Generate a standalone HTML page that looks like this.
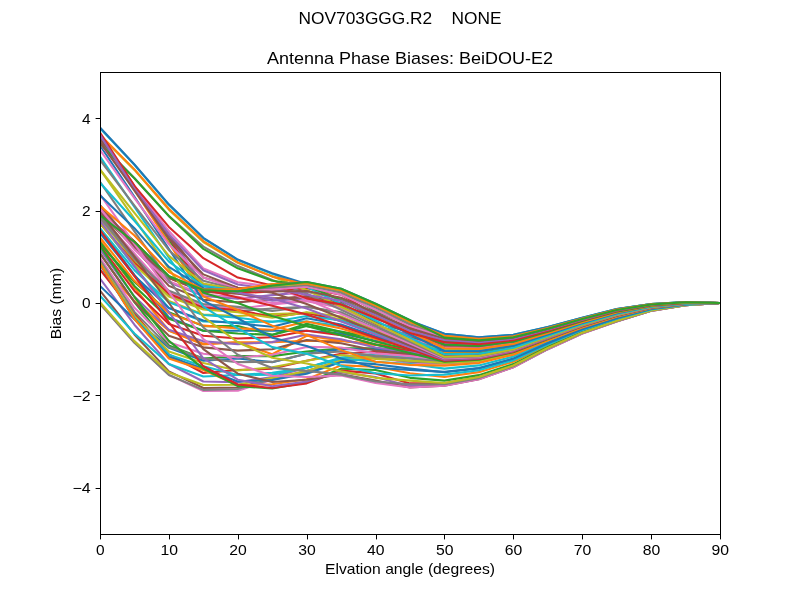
<!DOCTYPE html>
<html><head><meta charset="utf-8"><title>plot</title>
<style>
html,body{margin:0;padding:0;background:#fff;}
body{width:800px;height:600px;overflow:hidden;font-family:"Liberation Sans",sans-serif;}
svg{display:block;will-change:transform;}
svg text{font-family:"Liberation Sans",sans-serif;fill:#000;}
.ln polyline{fill:none;stroke-width:2.08;stroke-linejoin:round;stroke-linecap:butt;}
</style></head><body>
<svg width="800" height="600" viewBox="0 0 800 600">
<rect x="0" y="0" width="800" height="600" fill="#fff"/>
<defs><clipPath id="ax"><rect x="100" y="72" width="620" height="462"/></clipPath></defs>
<g class="ln" clip-path="url(#ax)">
<polyline points="100.00,215.22 134.44,242.02 168.89,276.20 203.33,290.06 237.78,291.45 272.22,285.63 306.67,281.98 341.11,288.68 375.56,303.74 410.00,320.23 444.44,337.65 478.89,340.36 513.33,337.32 547.78,328.70 582.22,318.97 616.67,309.95 651.11,304.45 685.56,302.32 720.00,303.00" stroke="#1f77b4"/>
<polyline points="100.00,213.14 134.44,241.78 168.89,276.67 203.33,290.53 237.78,291.45 272.22,287.29 306.67,283.60 341.11,290.06 375.56,306.59 410.00,321.88 444.44,339.30 478.89,341.70 513.33,338.35 547.78,329.40 582.22,319.47 616.67,310.34 651.11,304.67 685.56,302.42 720.00,303.00" stroke="#ff7f0e"/>
<polyline points="100.00,211.06 134.44,241.55 168.89,277.13 203.33,290.99 237.78,292.14 272.22,289.14 306.67,285.44 341.11,291.91 375.56,311.32 410.00,324.71 444.44,340.88 478.89,342.98 513.33,339.33 547.78,330.08 582.22,319.95 616.67,310.72 651.11,304.88 685.56,302.52 720.00,303.00" stroke="#2ca02c"/>
<polyline points="100.00,209.44 134.44,241.78 168.89,278.05 203.33,291.91 237.78,293.30 272.22,291.45 306.67,288.22 341.11,294.68 375.56,315.02 410.00,327.22 444.44,342.50 478.89,344.29 513.33,340.34 547.78,330.77 582.22,320.44 616.67,311.11 651.11,305.09 685.56,302.62 720.00,303.00" stroke="#d62728"/>
<polyline points="100.00,211.06 134.44,245.25 168.89,282.21 203.33,296.07 237.78,298.61 272.22,295.15 306.67,291.91 341.11,298.38 375.56,318.71 410.00,329.80 444.44,344.12 478.89,345.60 513.33,341.35 547.78,331.46 582.22,320.93 616.67,311.50 651.11,305.31 685.56,302.72 720.00,303.00" stroke="#9467bd"/>
<polyline points="100.00,212.22 134.44,248.25 168.89,285.91 203.33,299.77 237.78,302.40 272.22,299.30 306.67,296.07 341.11,303.00 375.56,322.40 410.00,332.34 444.44,345.74 478.89,346.90 513.33,342.35 547.78,332.15 582.22,321.41 616.67,311.89 651.11,305.53 685.56,302.82 720.00,303.00" stroke="#8c564b"/>
<polyline points="100.00,215.68 134.44,253.57 168.89,291.91 203.33,305.77 237.78,308.77 272.22,304.39 306.67,301.15 341.11,307.62 375.56,326.10 410.00,334.88 444.44,347.35 478.89,348.21 513.33,343.36 547.78,332.84 582.22,321.90 616.67,312.28 651.11,305.74 685.56,302.92 720.00,303.00" stroke="#e377c2"/>
<polyline points="100.00,215.95 134.44,255.91 168.89,295.30 203.33,309.01 237.78,310.99 272.22,308.54 306.67,306.70 341.11,313.16 375.56,329.80 410.00,337.39 444.44,348.97 478.89,349.52 513.33,344.36 547.78,333.53 582.22,322.39 616.67,312.67 651.11,305.96 685.56,303.02 720.00,303.00" stroke="#7f7f7f"/>
<polyline points="100.00,218.53 134.44,260.57 168.89,301.00 203.33,314.55 237.78,315.94 272.22,314.09 306.67,313.16 341.11,319.17 375.56,333.49 410.00,339.96 444.44,350.59 478.89,350.83 513.33,345.37 547.78,334.22 582.22,322.88 616.67,313.05 651.11,306.17 685.56,303.13 720.00,303.00" stroke="#bcbd22"/>
<polyline points="100.00,222.50 134.44,266.62 168.89,308.08 203.33,321.48 237.78,322.40 272.22,321.48 306.67,321.48 341.11,326.10 375.56,337.19 410.00,342.70 444.44,352.20 478.89,352.14 513.33,346.38 547.78,334.91 582.22,323.37 616.67,313.44 651.11,306.39 685.56,303.23 720.00,303.00" stroke="#17becf"/>
<polyline points="100.00,228.77 134.44,274.97 168.89,317.48 203.33,330.72 237.78,330.72 272.22,330.72 306.67,330.72 341.11,333.49 375.56,340.88 410.00,345.50 444.44,353.82 478.89,353.44 513.33,347.38 547.78,335.60 582.22,323.86 616.67,313.83 651.11,306.60 685.56,303.33 720.00,303.00" stroke="#1f77b4"/>
<polyline points="100.00,240.25 134.44,287.60 168.89,330.57 203.33,343.66 237.78,342.27 272.22,342.27 306.67,340.88 341.11,340.88 375.56,344.64 410.00,348.18 444.44,355.39 478.89,354.71 513.33,348.36 547.78,336.27 582.22,324.33 616.67,314.21 651.11,306.81 685.56,303.42 720.00,303.00" stroke="#ff7f0e"/>
<polyline points="100.00,253.57 134.44,302.08 168.89,345.50 203.33,358.44 237.78,356.13 272.22,356.13 306.67,351.51 341.11,348.28 375.56,348.28 410.00,351.05 444.44,357.05 478.89,356.06 513.33,349.40 547.78,336.98 582.22,324.84 616.67,314.61 651.11,307.03 685.56,303.53 720.00,303.00" stroke="#2ca02c"/>
<polyline points="100.00,269.50 134.44,313.39 168.89,354.51 203.33,372.99 237.78,369.99 272.22,368.60 306.67,360.75 341.11,353.82 375.56,351.80 410.00,354.68 444.44,359.10 478.89,357.72 513.33,350.67 547.78,337.85 582.22,325.45 616.67,315.10 651.11,307.31 685.56,303.66 720.00,303.00" stroke="#d62728"/>
<polyline points="100.00,278.51 134.44,324.71 168.89,363.98 203.33,381.54 237.78,382.23 272.22,376.92 306.67,367.68 341.11,358.44 375.56,354.74 410.00,358.44 444.44,361.21 478.89,359.42 513.33,351.98 547.78,338.75 582.22,326.09 616.67,315.60 651.11,307.59 685.56,303.79 720.00,303.00" stroke="#9467bd"/>
<polyline points="100.00,290.53 134.44,334.42 168.89,371.38 203.33,388.01 237.78,387.55 272.22,379.23 306.67,370.91 341.11,360.75 375.56,356.59 410.00,361.67 444.44,363.06 478.89,360.92 513.33,353.13 547.78,339.54 582.22,326.65 616.67,316.05 651.11,307.84 685.56,303.90 720.00,303.00" stroke="#8c564b"/>
<polyline points="100.00,303.69 134.44,342.50 168.89,374.84 203.33,391.01 237.78,390.78 272.22,379.69 306.67,372.30 341.11,361.67 375.56,357.52 410.00,363.06 444.44,363.98 478.89,361.67 513.33,353.71 547.78,339.94 582.22,326.93 616.67,316.27 651.11,307.96 685.56,303.96 720.00,303.00" stroke="#e377c2"/>
<polyline points="100.00,303.92 134.44,342.73 168.89,375.07 203.33,389.86 237.78,388.93 272.22,379.23 306.67,372.30 341.11,361.67 375.56,357.52 410.00,361.67 444.44,363.06 478.89,360.92 513.33,353.13 547.78,339.54 582.22,326.65 616.67,316.05 651.11,307.84 685.56,303.90 720.00,303.00" stroke="#7f7f7f"/>
<polyline points="100.00,302.31 134.44,341.12 168.89,372.53 203.33,385.00 237.78,384.77 272.22,377.84 306.67,370.91 341.11,360.29 375.56,356.13 410.00,360.75 444.44,360.75 478.89,359.05 513.33,351.69 547.78,338.56 582.22,325.95 616.67,315.49 651.11,307.53 685.56,303.76 720.00,303.00" stroke="#bcbd22"/>
<polyline points="100.00,295.61 134.44,333.49 168.89,363.98 203.33,376.46 237.78,375.07 272.22,374.61 306.67,367.68 341.11,357.52 375.56,353.82 410.00,357.52 444.44,358.44 478.89,357.18 513.33,350.26 547.78,337.57 582.22,325.25 616.67,314.94 651.11,307.22 685.56,303.61 720.00,303.00" stroke="#17becf"/>
<polyline points="100.00,285.91 134.44,319.17 168.89,347.81 203.33,360.75 237.78,358.44 272.22,362.14 306.67,353.82 341.11,349.20 375.56,349.20 410.00,353.82 444.44,355.67 478.89,354.94 513.33,348.53 547.78,336.39 582.22,324.42 616.67,314.27 651.11,306.85 685.56,303.44 720.00,303.00" stroke="#1f77b4"/>
<polyline points="100.00,264.19 134.44,301.15 168.89,330.72 203.33,344.58 237.78,342.27 272.22,354.28 306.67,335.80 341.11,340.42 375.56,345.04 410.00,348.04 444.44,353.36 478.89,353.07 513.33,347.10 547.78,335.40 582.22,323.72 616.67,313.72 651.11,306.54 685.56,303.30 720.00,303.00" stroke="#ff7f0e"/>
<polyline points="100.00,243.86 134.44,282.06 168.89,312.24 203.33,326.10 237.78,326.10 272.22,334.88 306.67,323.79 341.11,331.64 375.56,338.11 410.00,344.35 444.44,351.05 478.89,351.20 513.33,345.66 547.78,334.42 582.22,323.02 616.67,313.16 651.11,306.23 685.56,303.15 720.00,303.00" stroke="#2ca02c"/>
<polyline points="100.00,223.54 134.44,262.96 168.89,293.76 203.33,307.62 237.78,309.93 272.22,316.86 306.67,312.70 341.11,321.02 375.56,329.33 410.00,334.42 444.44,349.20 478.89,349.71 513.33,344.51 547.78,333.63 582.22,322.46 616.67,312.72 651.11,305.99 685.56,303.04 720.00,303.00" stroke="#d62728"/>
<polyline points="100.00,205.06 134.44,245.71 168.89,277.13 203.33,290.99 237.78,293.02 272.22,300.69 306.67,298.38 341.11,307.62 375.56,326.10 410.00,335.34 444.44,347.81 478.89,348.59 513.33,343.65 547.78,333.04 582.22,322.04 616.67,312.39 651.11,305.80 685.56,302.95 720.00,303.00" stroke="#9467bd"/>
<polyline points="100.00,205.40 134.44,246.29 168.89,277.82 203.33,291.45 237.78,293.76 272.22,298.38 306.67,297.46 341.11,305.77 375.56,324.71 410.00,337.19 444.44,347.35 478.89,348.21 513.33,343.36 547.78,332.84 582.22,321.90 616.67,312.28 651.11,305.74 685.56,302.92 720.00,303.00" stroke="#8c564b"/>
<polyline points="100.00,208.52 134.44,249.64 168.89,281.29 203.33,294.68 237.78,296.76 272.22,303.00 306.67,300.69 341.11,307.62 375.56,326.10 410.00,339.04 444.44,347.81 478.89,348.59 513.33,343.65 547.78,333.04 582.22,322.04 616.67,312.39 651.11,305.80 685.56,302.95 720.00,303.00" stroke="#e377c2"/>
<polyline points="100.00,217.65 134.44,258.99 168.89,290.76 203.33,303.92 237.78,306.88 272.22,310.99 306.67,306.70 341.11,312.24 375.56,328.41 410.00,341.35 444.44,348.74 478.89,349.33 513.33,344.22 547.78,333.43 582.22,322.32 616.67,312.61 651.11,305.93 685.56,303.01 720.00,303.00" stroke="#7f7f7f"/>
<polyline points="100.00,223.07 134.44,264.65 168.89,296.53 203.33,309.47 237.78,312.24 272.22,317.78 306.67,312.24 341.11,316.49 375.56,330.89 410.00,343.04 444.44,349.64 478.89,350.06 513.33,344.78 547.78,333.81 582.22,322.59 616.67,312.83 651.11,306.05 685.56,303.07 720.00,303.00" stroke="#bcbd22"/>
<polyline points="100.00,228.04 134.44,270.20 168.89,302.31 203.33,315.01 237.78,317.78 272.22,321.94 306.67,315.94 341.11,320.56 375.56,333.49 410.00,344.58 444.44,350.59 478.89,350.83 513.33,345.37 547.78,334.22 582.22,322.88 616.67,313.05 651.11,306.17 685.56,303.13 720.00,303.00" stroke="#17becf"/>
<polyline points="100.00,233.01 134.44,275.74 168.89,308.08 203.33,320.56 237.78,323.33 272.22,326.75 306.67,318.25 341.11,324.57 375.56,336.23 410.00,346.20 444.44,351.71 478.89,351.74 513.33,346.07 547.78,334.70 582.22,323.22 616.67,313.32 651.11,306.32 685.56,303.20 720.00,303.00" stroke="#1f77b4"/>
<polyline points="100.00,237.51 134.44,280.82 168.89,313.39 203.33,325.64 237.78,328.41 272.22,329.80 306.67,321.48 341.11,328.41 375.56,339.04 410.00,347.81 444.44,352.90 478.89,352.70 513.33,346.81 547.78,335.20 582.22,323.58 616.67,313.61 651.11,306.48 685.56,303.27 720.00,303.00" stroke="#ff7f0e"/>
<polyline points="100.00,242.02 134.44,285.91 168.89,318.71 203.33,330.72 237.78,333.49 272.22,334.88 306.67,326.10 341.11,331.88 375.56,341.78 410.00,349.46 444.44,354.00 478.89,353.59 513.33,347.50 547.78,335.68 582.22,323.91 616.67,313.87 651.11,306.63 685.56,303.34 720.00,303.00" stroke="#2ca02c"/>
<polyline points="100.00,245.56 134.44,290.99 168.89,324.02 203.33,335.80 237.78,338.57 272.22,337.19 306.67,330.72 341.11,335.34 375.56,344.58 410.00,351.05 444.44,355.21 478.89,354.57 513.33,348.25 547.78,336.19 582.22,324.28 616.67,314.16 651.11,306.79 685.56,303.41 720.00,303.00" stroke="#d62728"/>
<polyline points="100.00,249.56 134.44,296.53 168.89,329.80 203.33,341.35 237.78,344.12 272.22,342.13 306.67,334.42 341.11,339.18 375.56,347.58 410.00,352.36 444.44,356.73 478.89,355.79 513.33,349.19 547.78,336.84 582.22,324.74 616.67,314.53 651.11,306.99 685.56,303.51 720.00,303.00" stroke="#9467bd"/>
<polyline points="100.00,253.45 134.44,301.96 168.89,335.80 203.33,347.35 237.78,350.59 272.22,349.20 306.67,339.96 341.11,343.19 375.56,350.59 410.00,353.82 444.44,358.44 478.89,357.18 513.33,350.26 547.78,337.57 582.22,325.25 616.67,314.94 651.11,307.22 685.56,303.61 720.00,303.00" stroke="#8c564b"/>
<polyline points="100.00,257.80 134.44,307.85 168.89,342.27 203.33,353.82 237.78,357.52 272.22,354.74 306.67,346.89 341.11,347.42 375.56,353.39 410.00,356.13 444.44,360.29 478.89,358.68 513.33,351.41 547.78,338.36 582.22,325.81 616.67,315.38 651.11,307.47 685.56,303.73 720.00,303.00" stroke="#e377c2"/>
<polyline points="100.00,260.30 134.44,311.89 168.89,346.89 203.33,358.44 237.78,362.14 272.22,361.90 306.67,353.82 341.11,351.51 375.56,356.13 410.00,358.44 444.44,361.67 478.89,359.80 513.33,352.27 547.78,338.95 582.22,326.23 616.67,315.71 651.11,307.65 685.56,303.82 720.00,303.00" stroke="#7f7f7f"/>
<polyline points="100.00,262.81 134.44,315.94 168.89,351.51 203.33,363.06 237.78,370.45 272.22,367.22 306.67,360.75 341.11,355.05 375.56,358.93 410.00,360.75 444.44,363.06 478.89,360.92 513.33,353.13 547.78,339.54 582.22,326.65 616.67,316.05 651.11,307.84 685.56,303.90 720.00,303.00" stroke="#bcbd22"/>
<polyline points="100.00,264.04 134.44,317.94 168.89,354.74 203.33,366.29 237.78,375.07 272.22,372.76 306.67,367.68 341.11,358.44 375.56,361.67 410.00,363.98 444.44,368.60 478.89,365.40 513.33,356.58 547.78,341.91 582.22,328.33 616.67,317.38 651.11,308.57 685.56,304.25 720.00,303.00" stroke="#17becf"/>
<polyline points="100.00,264.35 134.44,319.02 168.89,357.05 203.33,368.60 237.78,381.54 272.22,379.92 306.67,373.69 341.11,361.94 375.56,364.16 410.00,368.60 444.44,372.30 478.89,368.39 513.33,358.88 547.78,343.48 582.22,329.44 616.67,318.26 651.11,309.07 685.56,304.48 720.00,303.00" stroke="#1f77b4"/>
<polyline points="100.00,263.73 134.44,319.17 168.89,358.44 203.33,369.99 237.78,385.24 272.22,384.31 306.67,379.23 341.11,365.37 375.56,366.76 410.00,373.22 444.44,376.92 478.89,372.13 513.33,361.76 547.78,345.45 582.22,330.84 616.67,319.37 651.11,309.68 685.56,304.76 720.00,303.00" stroke="#ff7f0e"/>
<polyline points="100.00,246.17 134.44,296.99 168.89,340.88 203.33,368.60 237.78,386.16 272.22,388.47 306.67,382.46 341.11,368.60 375.56,369.99 410.00,377.84 444.44,380.62 478.89,375.12 513.33,364.06 547.78,347.03 582.22,331.96 616.67,320.26 651.11,310.18 685.56,304.99 720.00,303.00" stroke="#2ca02c"/>
<polyline points="100.00,230.00 134.44,276.20 168.89,322.40 203.33,366.29 237.78,384.54 272.22,388.01 306.67,383.39 341.11,370.60 375.56,373.39 410.00,383.39 444.44,383.39 478.89,377.36 513.33,365.78 547.78,348.21 582.22,332.79 616.67,320.93 651.11,310.55 685.56,305.17 720.00,303.00" stroke="#d62728"/>
<polyline points="100.00,220.76 134.44,266.04 168.89,312.24 203.33,358.44 237.78,379.69 272.22,386.16 306.67,381.54 341.11,372.30 375.56,376.92 410.00,386.16 444.44,385.24 478.89,378.86 513.33,366.93 547.78,349.00 582.22,333.35 616.67,321.37 651.11,310.79 685.56,305.28 720.00,303.00" stroke="#9467bd"/>
<polyline points="100.00,212.45 134.44,256.80 168.89,303.00 203.33,349.20 237.78,373.69 272.22,382.00 306.67,379.69 341.11,374.15 375.56,380.62 410.00,387.55 444.44,385.70 478.89,379.23 513.33,367.22 547.78,349.20 582.22,333.49 616.67,321.48 651.11,310.85 685.56,305.31 720.00,303.00" stroke="#8c564b"/>
<polyline points="100.00,194.43 134.44,243.86 168.89,291.91 203.33,339.04 237.78,363.98 272.22,375.76 306.67,376.92 341.11,375.53 375.56,382.93 410.00,387.55 444.44,385.70 478.89,379.23 513.33,367.22 547.78,349.20 582.22,333.49 616.67,321.48 651.11,310.85 685.56,305.31 720.00,303.00" stroke="#e377c2"/>
<polyline points="100.00,181.96 134.44,231.39 168.89,279.90 203.33,327.49 237.78,354.74 272.22,367.91 306.67,370.91 341.11,374.61 375.56,381.54 410.00,384.31 444.44,384.31 478.89,378.11 513.33,366.36 547.78,348.61 582.22,333.07 616.67,321.15 651.11,310.67 685.56,305.22 720.00,303.00" stroke="#7f7f7f"/>
<polyline points="100.00,169.48 134.44,218.92 168.89,268.81 203.33,316.86 237.78,342.27 272.22,357.75 306.67,363.52 341.11,371.38 375.56,377.84 410.00,380.62 444.44,382.93 478.89,376.99 513.33,365.49 547.78,348.02 582.22,332.65 616.67,320.81 651.11,310.48 685.56,305.14 720.00,303.00" stroke="#bcbd22"/>
<polyline points="100.00,156.55 134.44,206.90 168.89,257.72 203.33,306.70 237.78,328.41 272.22,347.12 306.67,353.82 341.11,365.83 375.56,373.22 410.00,375.53 444.44,374.61 478.89,370.26 513.33,360.32 547.78,344.47 582.22,330.14 616.67,318.82 651.11,309.38 685.56,304.62 720.00,303.00" stroke="#17becf"/>
<polyline points="100.00,145.46 134.44,196.74 168.89,248.95 203.33,300.69 237.78,318.25 272.22,337.65 306.67,345.97 341.11,358.44 375.56,367.68 410.00,369.99 444.44,371.84 478.89,368.02 513.33,358.59 547.78,343.29 582.22,329.30 616.67,318.15 651.11,309.01 685.56,304.45 720.00,303.00" stroke="#1f77b4"/>
<polyline points="100.00,138.07 134.44,190.27 168.89,242.94 203.33,296.53 237.78,309.93 272.22,325.64 306.67,334.88 341.11,350.12 375.56,361.67 410.00,364.91 444.44,365.60 478.89,362.97 513.33,354.71 547.78,340.63 582.22,327.42 616.67,316.66 651.11,308.17 685.56,304.06 720.00,303.00" stroke="#ff7f0e"/>
<polyline points="100.00,135.76 134.44,187.50 168.89,239.24 203.33,292.84 237.78,303.00 272.22,315.94 306.67,326.10 341.11,335.34 375.56,344.58 410.00,352.90 444.44,361.67 478.89,359.80 513.33,352.27 547.78,338.95 582.22,326.23 616.67,315.71 651.11,307.65 685.56,303.82 720.00,303.00" stroke="#2ca02c"/>
<polyline points="100.00,134.83 134.44,186.11 168.89,237.40 203.33,289.14 237.78,297.46 272.22,305.86 306.67,314.55 341.11,326.10 375.56,337.65 410.00,349.20 444.44,360.75 478.89,359.05 513.33,351.69 547.78,338.56 582.22,325.95 616.67,315.49 651.11,307.53 685.56,303.76 720.00,303.00" stroke="#d62728"/>
<polyline points="100.00,135.76 134.44,186.58 168.89,236.01 203.33,284.52 237.78,292.84 272.22,298.38 306.67,308.54 341.11,321.48 375.56,334.42 410.00,347.35 444.44,359.83 478.89,358.30 513.33,351.12 547.78,338.16 582.22,325.67 616.67,315.27 651.11,307.40 685.56,303.70 720.00,303.00" stroke="#9467bd"/>
<polyline points="100.00,138.99 134.44,187.50 168.89,234.62 203.33,277.59 237.78,287.75 272.22,292.84 306.67,303.92 341.11,317.78 375.56,331.64 410.00,345.50 444.44,358.90 478.89,357.56 513.33,350.54 547.78,337.77 582.22,325.39 616.67,315.05 651.11,307.28 685.56,303.64 720.00,303.00" stroke="#8c564b"/>
<polyline points="100.00,143.61 134.44,186.58 168.89,231.02 203.33,268.35 237.78,282.21 272.22,286.83 306.67,299.30 341.11,314.09 375.56,328.87 410.00,343.66 444.44,358.44 478.89,357.18 513.33,350.26 547.78,337.57 582.22,325.25 616.67,314.94 651.11,307.22 685.56,303.61 720.00,303.00" stroke="#e377c2"/>
<polyline points="100.00,142.69 134.44,178.26 168.89,216.14 203.33,246.64 237.78,266.04 272.22,279.90 306.67,293.76 341.11,309.93 375.56,326.10 410.00,341.81 444.44,357.52 478.89,356.43 513.33,349.68 547.78,337.18 582.22,324.97 616.67,314.72 651.11,307.10 685.56,303.56 720.00,303.00" stroke="#7f7f7f"/>
<polyline points="100.00,135.52 134.44,169.94 168.89,209.68 203.33,242.02 237.78,262.81 272.22,276.20 306.67,290.06 341.11,306.70 375.56,323.33 410.00,339.96 444.44,356.82 478.89,355.87 513.33,349.25 547.78,336.88 582.22,324.77 616.67,314.55 651.11,307.00 685.56,303.51 720.00,303.00" stroke="#bcbd22"/>
<polyline points="100.00,128.13 134.44,164.86 168.89,205.06 203.33,238.32 237.78,260.03 272.22,273.89 306.67,286.83 341.11,303.92 375.56,320.56 410.00,337.65 444.44,354.28 478.89,353.82 513.33,347.67 547.78,335.80 582.22,324.00 616.67,313.94 651.11,306.67 685.56,303.36 720.00,303.00" stroke="#17becf"/>
<polyline points="100.00,127.44 134.44,164.49 168.89,204.36 203.33,237.86 237.78,259.57 272.22,273.25 306.67,284.06 341.11,300.69 375.56,317.32 410.00,334.42 444.44,351.05 478.89,351.20 513.33,345.66 547.78,334.42 582.22,323.02 616.67,313.16 651.11,306.23 685.56,303.15 720.00,303.00" stroke="#1f77b4"/>
<polyline points="100.00,134.83 134.44,169.39 168.89,208.75 203.33,241.09 237.78,262.34 272.22,276.62 306.67,284.52 341.11,300.23 375.56,316.40 410.00,332.11 444.44,348.28 478.89,348.96 513.33,343.93 547.78,333.23 582.22,322.18 616.67,312.50 651.11,305.86 685.56,302.98 720.00,303.00" stroke="#ff7f0e"/>
<polyline points="100.00,143.61 134.44,178.26 168.89,216.01 203.33,248.95 237.78,268.35 272.22,280.82 306.67,285.44 341.11,300.23 375.56,315.01 410.00,329.80 444.44,344.58 478.89,345.97 513.33,341.63 547.78,331.66 582.22,321.07 616.67,311.61 651.11,305.37 685.56,302.75 720.00,303.00" stroke="#2ca02c"/>
<polyline points="100.00,132.52 134.44,185.88 168.89,226.91 203.33,258.19 237.78,277.59 272.22,285.44 306.67,298.38 341.11,304.39 375.56,318.01 410.00,333.03 444.44,342.27 478.89,344.10 513.33,340.20 547.78,330.67 582.22,320.37 616.67,311.06 651.11,305.06 685.56,302.61 720.00,303.00" stroke="#d62728"/>
<polyline points="100.00,134.83 134.44,188.89 168.89,234.16 203.33,270.20 237.78,284.52 272.22,289.14 306.67,294.68 341.11,300.74 375.56,315.01 410.00,330.72 444.44,339.96 478.89,342.23 513.33,338.76 547.78,329.69 582.22,319.67 616.67,310.50 651.11,304.76 685.56,302.46 720.00,303.00" stroke="#9467bd"/>
<polyline points="100.00,141.95 134.44,190.73 168.89,238.50 203.33,274.36 237.78,287.75 272.22,291.45 306.67,290.99 341.11,297.73 375.56,312.70 410.00,328.41 444.44,338.11 478.89,340.74 513.33,337.61 547.78,328.90 582.22,319.11 616.67,310.06 651.11,304.51 685.56,302.35 720.00,303.00" stroke="#8c564b"/>
<polyline points="100.00,150.08 134.44,198.13 168.89,244.33 203.33,277.59 237.78,289.14 272.22,289.37 306.67,286.83 341.11,294.68 375.56,309.75 410.00,326.10 444.44,336.73 478.89,339.62 513.33,336.75 547.78,328.31 582.22,318.69 616.67,309.73 651.11,304.32 685.56,302.26 720.00,303.00" stroke="#e377c2"/>
<polyline points="100.00,159.91 134.44,205.65 168.89,250.23 203.33,280.72 237.78,289.71 272.22,287.52 306.67,284.98 341.11,292.51 375.56,307.48 410.00,324.02 444.44,335.34 478.89,338.50 513.33,335.88 547.78,327.71 582.22,318.27 616.67,309.39 651.11,304.14 685.56,302.18 720.00,303.00" stroke="#7f7f7f"/>
<polyline points="100.00,169.48 134.44,212.91 168.89,255.88 203.33,283.60 237.78,290.06 272.22,285.70 306.67,283.60 341.11,290.53 375.56,305.31 410.00,321.71 444.44,334.42 478.89,337.75 513.33,335.31 547.78,327.32 582.22,317.99 616.67,309.17 651.11,304.02 685.56,302.12 720.00,303.00" stroke="#bcbd22"/>
<polyline points="100.00,182.65 134.44,220.76 168.89,261.65 203.33,286.14 237.78,290.37 272.22,284.52 306.67,283.13 341.11,290.06 375.56,304.85 410.00,321.25 444.44,333.72 478.89,337.19 513.33,334.88 547.78,327.02 582.22,317.78 616.67,309.01 651.11,303.92 685.56,302.08 720.00,303.00" stroke="#17becf"/>
<polyline points="100.00,195.35 134.44,228.16 168.89,266.96 203.33,288.22 237.78,290.53 272.22,284.19 306.67,282.67 341.11,289.60 375.56,304.39 410.00,320.79 444.44,333.72 478.89,337.19 513.33,334.88 547.78,327.02 582.22,317.78 616.67,309.01 651.11,303.92 685.56,302.08 720.00,303.00" stroke="#1f77b4"/>
<polyline points="100.00,205.75 134.44,235.55 168.89,272.05 203.33,289.60 237.78,289.14 272.22,284.06 306.67,283.37 341.11,290.25 375.56,305.26 410.00,321.76 444.44,335.80 478.89,338.87 513.33,336.17 547.78,327.91 582.22,318.41 616.67,309.50 651.11,304.20 685.56,302.21 720.00,303.00" stroke="#ff7f0e"/>
<polyline points="100.00,215.22 134.44,242.02 168.89,276.20 203.33,290.06 237.78,291.45 272.22,285.63 306.67,281.98 341.11,288.68 375.56,303.74 410.00,320.23 444.44,337.65 478.89,340.36 513.33,337.32 547.78,328.70 582.22,318.97 616.67,309.95 651.11,304.45 685.56,302.32 720.00,303.00" stroke="#2ca02c"/>
</g>
<rect x="100.5" y="72.5" width="620" height="462" fill="none" stroke="#000" stroke-width="1"/>
<line x1="100.50" y1="534.5" x2="100.50" y2="539.4" stroke="#000" stroke-width="1"/>
<text x="100.30" y="554.6" text-anchor="middle" font-size="14.2" textLength="8.6" lengthAdjust="spacingAndGlyphs">0</text>
<line x1="169.50" y1="534.5" x2="169.50" y2="539.4" stroke="#000" stroke-width="1"/>
<text x="169.19" y="554.6" text-anchor="middle" font-size="14.2" textLength="17.5" lengthAdjust="spacingAndGlyphs">10</text>
<line x1="238.50" y1="534.5" x2="238.50" y2="539.4" stroke="#000" stroke-width="1"/>
<text x="238.08" y="554.6" text-anchor="middle" font-size="14.2" textLength="17.5" lengthAdjust="spacingAndGlyphs">20</text>
<line x1="307.50" y1="534.5" x2="307.50" y2="539.4" stroke="#000" stroke-width="1"/>
<text x="306.97" y="554.6" text-anchor="middle" font-size="14.2" textLength="17.5" lengthAdjust="spacingAndGlyphs">30</text>
<line x1="376.50" y1="534.5" x2="376.50" y2="539.4" stroke="#000" stroke-width="1"/>
<text x="375.86" y="554.6" text-anchor="middle" font-size="14.2" textLength="17.5" lengthAdjust="spacingAndGlyphs">40</text>
<line x1="444.50" y1="534.5" x2="444.50" y2="539.4" stroke="#000" stroke-width="1"/>
<text x="444.74" y="554.6" text-anchor="middle" font-size="14.2" textLength="17.5" lengthAdjust="spacingAndGlyphs">50</text>
<line x1="513.50" y1="534.5" x2="513.50" y2="539.4" stroke="#000" stroke-width="1"/>
<text x="513.63" y="554.6" text-anchor="middle" font-size="14.2" textLength="17.5" lengthAdjust="spacingAndGlyphs">60</text>
<line x1="582.50" y1="534.5" x2="582.50" y2="539.4" stroke="#000" stroke-width="1"/>
<text x="582.52" y="554.6" text-anchor="middle" font-size="14.2" textLength="17.5" lengthAdjust="spacingAndGlyphs">70</text>
<line x1="651.50" y1="534.5" x2="651.50" y2="539.4" stroke="#000" stroke-width="1"/>
<text x="651.41" y="554.6" text-anchor="middle" font-size="14.2" textLength="17.5" lengthAdjust="spacingAndGlyphs">80</text>
<line x1="720.50" y1="534.5" x2="720.50" y2="539.4" stroke="#000" stroke-width="1"/>
<text x="720.30" y="554.6" text-anchor="middle" font-size="14.2" textLength="17.5" lengthAdjust="spacingAndGlyphs">90</text>
<line x1="95.6" y1="488.50" x2="100.5" y2="488.50" stroke="#000" stroke-width="1"/>
<text x="90.6" y="493.10" text-anchor="end" font-size="14.2" textLength="18.2" lengthAdjust="spacingAndGlyphs">−4</text>
<line x1="95.6" y1="395.50" x2="100.5" y2="395.50" stroke="#000" stroke-width="1"/>
<text x="90.6" y="400.70" text-anchor="end" font-size="14.2" textLength="18.2" lengthAdjust="spacingAndGlyphs">−2</text>
<line x1="95.6" y1="303.50" x2="100.5" y2="303.50" stroke="#000" stroke-width="1"/>
<text x="90.6" y="308.30" text-anchor="end" font-size="14.2" textLength="8.6" lengthAdjust="spacingAndGlyphs">0</text>
<line x1="95.6" y1="211.50" x2="100.5" y2="211.50" stroke="#000" stroke-width="1"/>
<text x="90.6" y="215.90" text-anchor="end" font-size="14.2" textLength="8.6" lengthAdjust="spacingAndGlyphs">2</text>
<line x1="95.6" y1="118.50" x2="100.5" y2="118.50" stroke="#000" stroke-width="1"/>
<text x="90.6" y="123.50" text-anchor="end" font-size="14.2" textLength="8.6" lengthAdjust="spacingAndGlyphs">4</text>
<text x="400" y="24.3" text-anchor="middle" font-size="17.2" textLength="203" lengthAdjust="spacingAndGlyphs" xml:space="preserve">NOV703GGG.R2    NONE</text>
<text x="410" y="63.6" text-anchor="middle" font-size="17.2" textLength="286" lengthAdjust="spacingAndGlyphs">Antenna Phase Biases: BeiDOU-E2</text>
<text x="410" y="574" text-anchor="middle" font-size="14.2" textLength="170" lengthAdjust="spacingAndGlyphs">Elvation angle (degrees)</text>
<text transform="translate(60.8,303.6) rotate(-90)" text-anchor="middle" font-size="14.2" textLength="71.5" lengthAdjust="spacingAndGlyphs">Bias (mm)</text>
</svg>
</body></html>
